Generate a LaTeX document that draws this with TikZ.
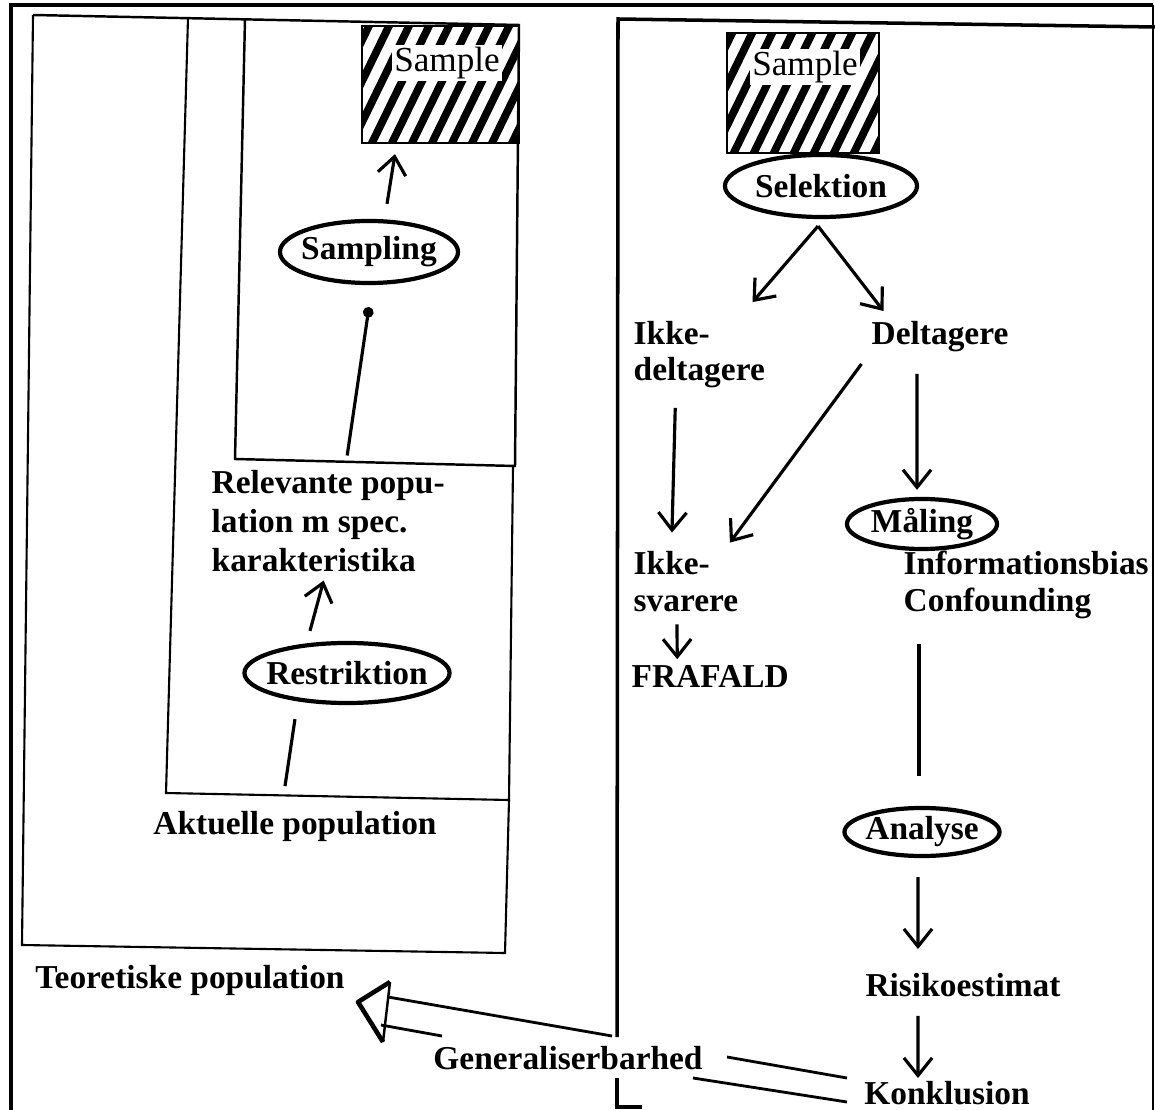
\documentclass[tikz,border=0pt]{standalone}
\usepackage{fontspec}
\setmainfont{Liberation Serif}
\usetikzlibrary{arrows.meta,shapes.geometric}

\begin{document}
\begin{tikzpicture}[x=0.01cm, y=-0.01cm, >={Straight Barb[length=5pt,width=8pt]},
    txt/.style={font=\fontsize{9.5}{10.5}\selectfont\bfseries, inner sep=0pt, align=left},
    stxt/.style={font=\fontsize{10}{12}\selectfont, inner sep=0.6pt, fill=white},
    oval/.style={ellipse, draw, line width=1.2pt, inner sep=0pt},
    hatch/.style={draw, line width=0.6pt, inner sep=0pt, path picture={
        \foreach \k in {-10,...,10}
          \draw[line width=2.2pt] ([xshift=\k*0.2cm]path picture bounding box.center) ++(-116:1.2cm) -- ++(64:2.4cm);}},
    arr/.style={->, line width=0.9pt},
    conn/.style={line width=0.9pt}]
    \useasboundingbox (0,0) rectangle (1155,1110);

    % Frame
    \draw[line width=0.9pt] (11,1110) -- (11,5) -- (1153,5);
    \draw[line width=0.5pt] (1153,5) -- (1153,1110);

    % Population boxes
    \draw[line width=0.7pt] (33,15) -- (519,25) -- (515,466) -- (235,459) -- (245,19);
    \draw[line width=0.6pt] (188,18) -- (166,793) -- (509,800) -- (513,466);
    \draw[line width=0.6pt] (33,15) -- (22,945) -- (505,953) -- (509,800);

    % Study box
    \draw[line width=1pt] (1155,27) -- (618,19) -- (617,1037);
    \draw[line width=1pt] (617,1078) -- (617,1107) -- (642,1107);

    % Samples
    \node[hatch, minimum width=1.57cm, minimum height=1.17cm] (sampL) at (440.5,84.5) {};
    \node[stxt] (sampLtext) at (447,63) {Sample};
    \node[hatch, minimum width=1.52cm, minimum height=1.20cm] (sampR) at (803,93) {};
    \node[stxt] (sampRtext) at (805,67) {Sample};

    % Ovals
    \node[oval, minimum width=1.78cm, minimum height=0.62cm, label={[txt]center:Sampling}] (sampling) at (369,252) {};
    \node[oval, minimum width=2.05cm, minimum height=0.60cm, label={[txt]center:Restriktion}] (restrik) at (347,673) {};
    \node[oval, minimum width=1.92cm, minimum height=0.62cm, label={[txt]center:Selektion}] (selek) at (821,186) {};
    \node[oval, minimum width=1.50cm, minimum height=0.50cm, label={[txt]center:Måling}] (maaling) at (922,524) {};
    \node[oval, minimum width=1.55cm, minimum height=0.48cm, label={[txt]center:Analyse}] (analyse) at (922,832) {};

    % Labels
    \node[txt, anchor=west, font=\fontsize{9.5}{11.1}\selectfont\bfseries] (relpop) at (211,521) {Relevante popu-\\lation m spec.\\karakteristika};
    \node[txt] (aktpop) at (295,826) {Aktuelle population};
    \node[txt] (teopop) at (190,980) {Teoretiske population};
    \node[txt, anchor=west, font=\fontsize{9.5}{10.2}\selectfont\bfseries] (ikkedelt) at (633,355) {Ikke-\\deltagere};
    \node[txt] (delt) at (940,337) {Deltagere};
    \node[txt, anchor=west] (ikkesv) at (633,582) {Ikke-\\svarere};
    \node[txt, anchor=west] (frafald) at (631,677) {FRAFALD};
    \node[txt, anchor=west] (infobias) at (903,585) {Informationsbias\\Confounding};
    \node[txt] (risiko) at (963,985) {Risikoestimat};
    \node[txt] (konkl) at (947,1093) {Konklusion};
    \node[txt] (general) at (568,1058) {Generaliserbarhed};

    % Left column
    \draw[arr] ([shift={(0.18cm,0.15cm)}]sampling.north) -- ([shift={(-0.455cm,-0.10cm)}]sampL.south);
    \draw[conn, -{Circle[length=3pt]}] ([shift={(0.19cm,0.14cm)}]relpop.north) -- ([yshift=-0.22cm]sampling.south);
    \draw[arr] ([shift={(-0.37cm,0.10cm)}]restrik.north) -- ([shift={(-0.045cm,-0.08cm)}]relpop.south);
    \draw[conn] ([shift={(-0.10cm,0.24cm)}]aktpop.north) -- ([shift={(-0.52cm,-0.14cm)}]restrik.south);

    % Right column
    \draw[arr] ([shift={(-0.03cm,-0.07cm)}]selek.south) -- ([shift={(-0.13cm,0.19cm)}]ikkedelt.north east);
    \draw[arr] ([shift={(-0.03cm,-0.07cm)}]selek.south) -- ([shift={(0.125cm,0.10cm)}]delt.north west);
    \draw[arr] ([shift={(-0.095cm,-0.11cm)}]delt.south west) -- ([shift={(-0.09cm,0.085cm)}]ikkesv.north east);
    \draw[arr] ([shift={(-0.24cm,-0.19cm)}]ikkedelt.south) -- ([shift={(-0.14cm,0.185cm)}]ikkesv.north);
    \draw[arr] ([shift={(-0.09cm,-0.115cm)}]ikkesv.south) -- ([shift={(-0.33cm,0.06cm)}]frafald.north);
    \draw[arr] ([shift={(-0.23cm,-0.21cm)}]delt.south) -- ([shift={(-0.05cm,0.07cm)}]maaling.north);
    \draw[conn] ([shift={(-0.03cm,-0.93cm)}]maaling.south) -- ([shift={(-0.03cm,0.30cm)}]analyse.north);
    \draw[arr] ([shift={(-0.04cm,-0.19cm)}]analyse.south) -- ([shift={(-0.45cm,0.235cm)}]risiko.north);
    \draw[arr] ([shift={(-0.45cm,-0.185cm)}]risiko.south) -- ([shift={(-0.29cm,0.025cm)}]konkl.north);

    % Generalisation arrow
    \coordinate (gtip) at (358,1002);
    \coordinate (gtop) at (390,982);
    \coordinate (gbot) at (383,1042);
    \draw[line width=1.3pt, line join=round] (gtop) -- (gtip) -- (gbot);
    \draw[line width=0.7pt] (gbot) -- (gtop);
    \draw[line width=0.8pt] (388,997) -- (612,1036);
    \draw[line width=0.8pt] (727,1057) -- (847,1078);
    \draw[line width=0.8pt] (381,1025) -- (442,1036);
    \draw[line width=0.8pt] (693,1078) -- (847,1102);
\end{tikzpicture}
\end{document}
